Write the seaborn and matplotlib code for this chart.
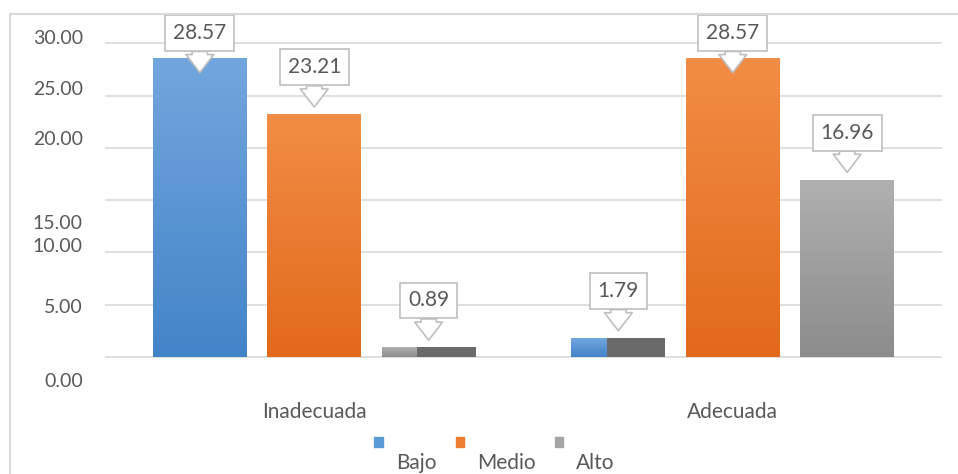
import numpy as np
import pandas as pd
import matplotlib
matplotlib.use("Agg")
import matplotlib.pyplot as plt
import matplotlib.patches as mpatches
from matplotlib.colors import LinearSegmentedColormap
from matplotlib.legend_handler import HandlerPatch
import seaborn as sns

# Data
grupos = ["Inadecuada", "Adecuada"]
niveles = ["Bajo", "Medio", "Alto"]
inadecuada = [28.57, 23.21, 0.89]
adecuada = [1.79, 28.57, 16.96]

# y tick labels as shown (labels sit off the gridlines in the original)
ytick_labels = ["30.00", "25.00", "20.00", "15.00", "10.00", "5.00", "0.00"]
ytick_label_pos = [30.6, 25.7, 20.9, 12.9, 10.7, 4.9, -2.2]
grid_vals = [0, 5, 10, 15, 20, 25, 30]

colores = {"Bajo": "#5b9bd5", "Medio": "#ed7d31", "Alto": "#a5a5a5"}
degradados = {"Bajo": ("#4384c8", "#72a6de"),
              "Medio": ("#e2691b", "#f28d46"),
              "Alto": ("#8c8c8c", "#b0b0b0")}
gris_texto = "#595959"

df = pd.DataFrame({
    "grupo": np.repeat(grupos, len(niveles)),
    "nivel": niveles * len(grupos),
    "valor": inadecuada + adecuada,
})

sns.set_style("white")
plt.rcParams["font.family"] = ["Lato", "DejaVu Sans"]

fig = plt.figure(figsize=(9.58, 4.74), dpi=100)
ax = fig.add_axes([0.1096, 0.19, 0.8737, 0.789])

sns.barplot(data=df, x="grupo", y="valor", hue="nivel", hue_order=niveles,
            order=grupos, palette=colores, width=0.82, gap=0.18,
            saturation=1, legend=False, ax=ax, zorder=2)

# gradient fill on bars
for nivel, cont in zip(niveles, ax.containers):
    cmap = LinearSegmentedColormap.from_list(nivel, degradados[nivel])
    for bar in cont:
        x0, y0 = bar.get_x(), bar.get_y()
        w, h = bar.get_width(), bar.get_height()
        grad = np.linspace(0, 1, 100).reshape(-1, 1)
        im = ax.imshow(grad, extent=[x0, x0 + w, y0, y0 + h], origin="lower",
                       aspect="auto", cmap=cmap, zorder=2.1)
        im.set_clip_path(bar)
        bar.set_facecolor("none")
        bar.set_edgecolor("none")
        # small bars render with a dark shade on their right part
        if h < 3:
            ax.add_patch(mpatches.Rectangle((x0 + 0.38 * w, y0), 0.62 * w, h,
                                            color="#6a6a6a", zorder=2.2, lw=0))

ax.set_xlim(-0.5, 1.5)
ax.set_ylim(-2.6, 33.2)

# gridlines on the real values, labels at their shifted spots
ax.set_yticks(grid_vals)
ax.set_yticklabels([])
ax.set_yticks(ytick_label_pos, ytick_labels, minor=True)
ax.tick_params(axis="y", which="both", length=0, pad=16,
               labelsize=14, labelcolor=gris_texto)
ax.tick_params(axis="x", length=0, pad=13, labelsize=15, labelcolor=gris_texto)
ax.grid(axis="y", which="major", color="#d9d9d9", lw=1.2, zorder=0)
ax.set_axisbelow(True)
for s in ax.spines.values():
    s.set_visible(False)
ax.set_xlabel("")
ax.set_ylabel("")

# callout labels
for cont in ax.containers:
    for bar in cont:
        v = bar.get_height()
        cx = bar.get_x() + bar.get_width() / 2
        ty = min(v + 4.5, 31.0)
        ax.annotate(f"{v:.2f}", xy=(cx, ty - 3.8), xytext=(cx, ty),
                    ha="center", va="center", fontsize=15, color=gris_texto,
                    annotation_clip=False, zorder=5,
                    bbox=dict(boxstyle="square,pad=0.38", fc="white",
                              ec="#bfbfbf", lw=1.2),
                    arrowprops=dict(arrowstyle="simple,head_length=0.65,head_width=1.0,tail_width=0.55",
                                    fc="white", ec="#bfbfbf", lw=1.2,
                                    mutation_scale=20, shrinkA=0, shrinkB=0))


# legend: small square sitting above-left of each label
def cuadro_arriba(legend, orig_handle, xdescent, ydescent, width, height, fontsize):
    return mpatches.Rectangle((-xdescent - 2, -ydescent + height + 5), 6, 7.5)


handles = [mpatches.Patch(color=colores[n]) for n in niveles]
fig.legend(handles, niveles, loc="center", bbox_to_anchor=(496 / 958, 1 - 463 / 474),
           ncol=3, frameon=False, fontsize=15, labelcolor=gris_texto,
           handlelength=0.6, handletextpad=0.3, columnspacing=1.05, borderpad=0,
           handler_map={mpatches.Patch: HandlerPatch(patch_func=cuadro_arriba)})

# outer chart border
fig.patches.append(mpatches.Rectangle((10 / 958, -0.1), 1.2, 1 - 14 / 474 + 0.1,
                                      transform=fig.transFigure, fill=False,
                                      ec="#d9d9d9", lw=1.5, zorder=0))

fig.savefig("out.png", dpi=100)
